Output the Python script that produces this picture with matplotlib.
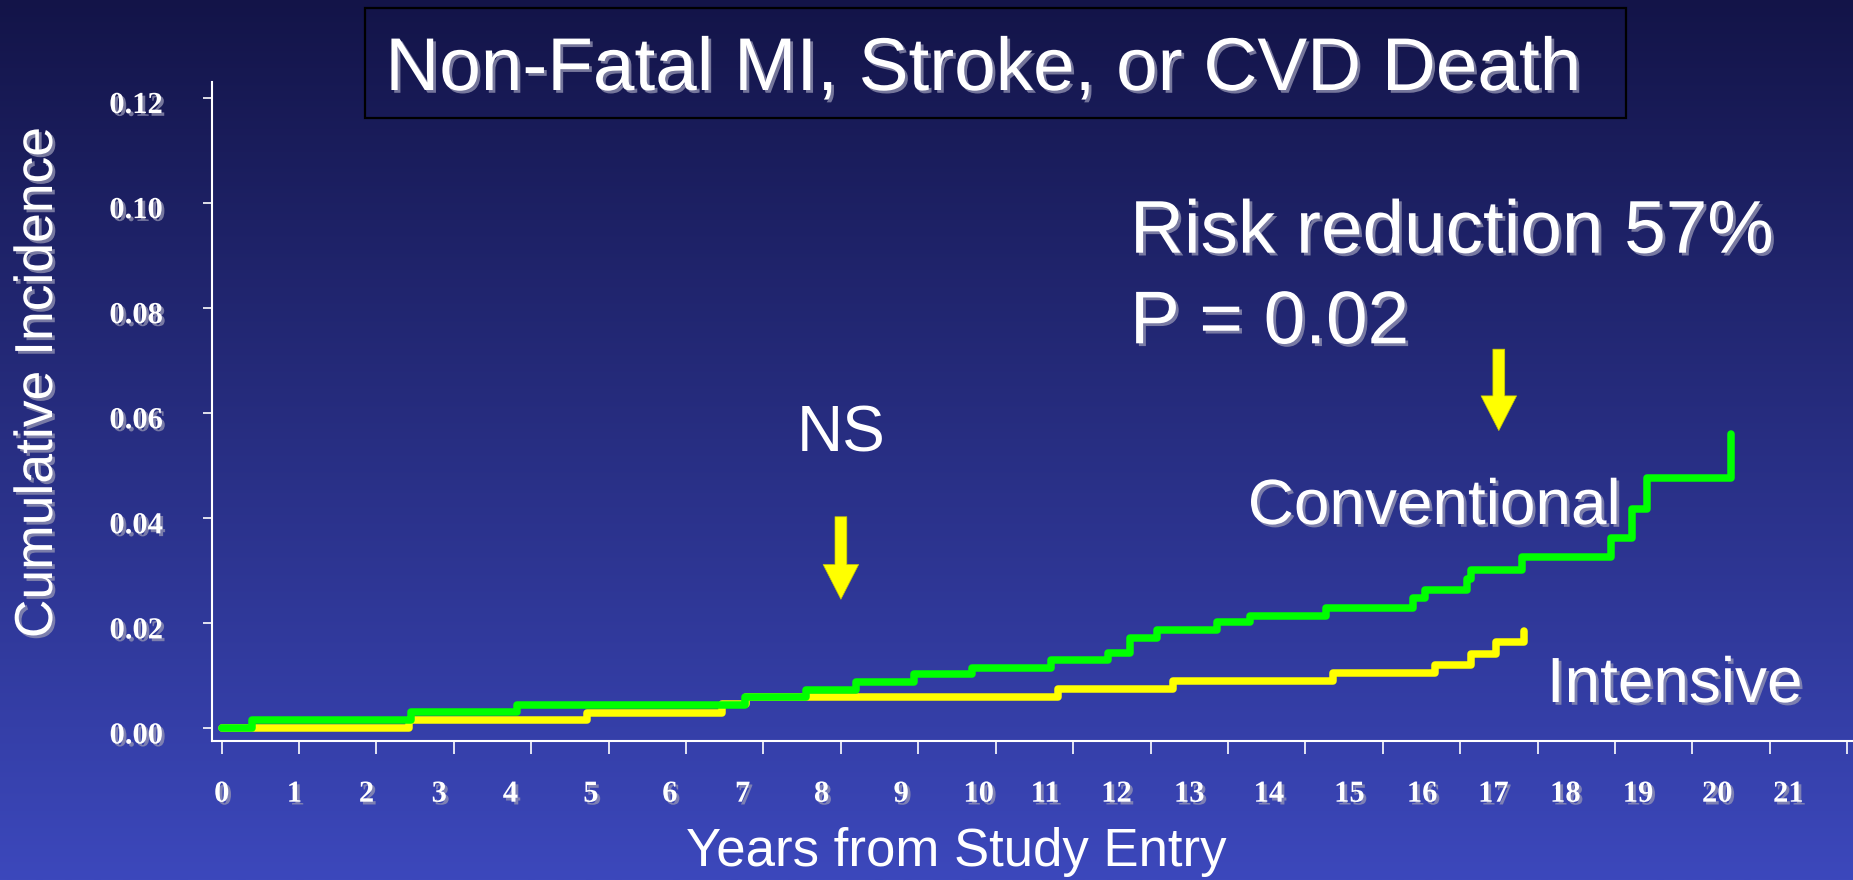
import numpy as np
import matplotlib.pyplot as plt
import matplotlib.patheffects as pe
from matplotlib.patches import Rectangle, FancyArrowPatch, ArrowStyle
from matplotlib.transforms import ScaledTranslation

# Kaplan-Meier style step curves: (years from entry, cumulative incidence)
conv_years = [0.0, 0.39, 2.45, 3.81, 6.76, 7.55, 8.20, 8.95, 9.69, 10.71, 11.45,
              11.74, 12.09, 12.86, 13.29, 14.27, 15.39, 15.55, 16.09, 16.14,
              16.80, 17.95, 18.22, 18.42, 19.50]
conv_inc = [0.0, 0.0016, 0.0031, 0.0045, 0.0060, 0.0073, 0.0088, 0.0103, 0.0116,
            0.0130, 0.0144, 0.0173, 0.0187, 0.0202, 0.0215, 0.0230, 0.0249,
            0.0263, 0.0285, 0.0302, 0.0326, 0.0362, 0.0417, 0.0476, 0.0560]

int_years = [0.0, 2.42, 4.72, 6.46, 6.78, 10.81, 12.29, 14.36, 15.67, 16.14,
             16.46, 16.83]
int_inc = [0.0, 0.0016, 0.0030, 0.0046, 0.0059, 0.0075, 0.0090, 0.0105, 0.0120,
           0.0142, 0.0164, 0.0185]

year_ticks = list(range(22))
year_labels = [str(y) for y in year_ticks]
# the year numbers are laid out on their own and drift away from the tick marks
year_label_pos = [0.0, 0.94, 1.87, 2.81, 3.73, 4.77, 5.79, 6.73, 7.75, 8.78, 9.78,
                  10.64, 11.56, 12.50, 13.53, 14.57, 15.51, 16.43, 17.36, 18.30,
                  19.32, 20.24]

inc_ticks = [0.00, 0.02, 0.04, 0.06, 0.08, 0.10, 0.12]
inc_labels = ['0.00', '0.02', '0.04', '0.06', '0.08', '0.10', '0.12']

# arrows marking the comparison points (year, top, tip)
arrows = [(8.0, 0.0403, 0.0246), (16.5, 0.0722, 0.0567)]

W, H = 1853, 880
fig = plt.figure(figsize=(W / 100, H / 100), dpi=100)

# slide background: vertical navy-to-blue gradient
bg = fig.add_axes([0, 0, 1, 1], zorder=0)
top = np.array([19, 20, 72]) / 255
bottom = np.array([60, 72, 188]) / 255
t = np.linspace(0, 1, 400)[:, None]
grad = (top[None, :] * (1 - t) + bottom[None, :] * t)[:, None, :]
bg.imshow(grad, aspect='auto', extent=[0, 1, 0, 1], interpolation='bilinear')
bg.set_axis_off()

shadow = [pe.withSimplePatchShadow(offset=(2, -2), shadow_rgbFace='#9696b4', alpha=0.75)]
sans = 'Liberation Sans'
serif = 'Liberation Serif'

left_px, right_px, top_px, axis_px = 211.7, 1853, 82, 741
ax = fig.add_axes([left_px / W, 1 - axis_px / H, (right_px - left_px) / W,
                   (axis_px - top_px) / H], zorder=1)
ax.patch.set_alpha(0)

ax.step(int_years, int_inc, where='post', color='#ffff00', lw=5.4,
        solid_joinstyle='round', solid_capstyle='round', zorder=3, clip_on=False)
ax.step(conv_years, conv_inc, where='post', color='#00ff00', lw=5.4,
        solid_joinstyle='round', solid_capstyle='round', zorder=4, clip_on=False)

ax.set_xlim(-0.129, 21.076)
ax.set_ylim(-0.00238, 0.12305)

for side in ['top', 'right']:
    ax.spines[side].set_visible(False)
for side in ['left', 'bottom']:
    ax.spines[side].set_color('white')
    ax.spines[side].set_linewidth(1.5)

ax.set_xticks(year_ticks)
ax.set_xticklabels([])
ax.tick_params(axis='x', direction='out', length=9, width=1.2, color='white')

ax.set_yticks(inc_ticks)
ax.set_yticklabels(inc_labels, fontfamily=serif, fontweight='bold', fontsize=22,
                   color='white')
ax.tick_params(axis='y', direction='out', length=6.3, width=1.2, color='white', pad=29)
for lab in ax.get_yticklabels():
    lab.set_path_effects(shadow)
    lab.set_transform(lab.get_transform() + ScaledTranslation(0, -0.04, fig.dpi_scale_trans))

for pos, lab in zip(year_label_pos, year_labels):
    ax.text(pos, (axis_px - 801.7) / (axis_px - top_px), lab, transform=ax.get_xaxis_transform(),
            ha='center', va='baseline', fontfamily=serif, fontweight='bold', fontsize=22,
            color='white', path_effects=shadow, clip_on=False)

for x, y0, y1 in arrows:
    ax.add_patch(FancyArrowPatch((x, y0), (x, y1),
                                 arrowstyle=ArrowStyle.Simple(head_length=25, head_width=25.6,
                                                              tail_width=8.5),
                                 mutation_scale=1, shrinkA=0, shrinkB=0, fc='#ffff00',
                                 ec='#c8c800', lw=0.5, zorder=5, clip_on=False))

# axis titles
fig.text(38 / W, 1 - 382 / H, 'Cumulative Incidence', rotation=90, ha='center', va='center',
         fontfamily=sans, fontsize=38.5, color='white', path_effects=shadow)
fig.text(956 / W, 1 - 866 / H, 'Years from Study Entry', ha='center', va='baseline',
         fontfamily=sans, fontsize=38, color='white')

# title in an outlined box
fig.patches.append(Rectangle((365 / W, 1 - 118.3 / H), (1626 - 365) / W, 110 / H,
                             transform=fig.transFigure, fill=False, ec='black', lw=1.6,
                             zorder=2))
fig.text(983 / W, 1 - 90 / H, 'Non-Fatal MI, Stroke, or CVD Death', ha='center',
         va='baseline', fontfamily=sans, fontsize=53.8, color='white', path_effects=shadow,
         zorder=3)

# annotations
fig.text(1130 / W, 1 - 252.7 / H, 'Risk reduction 57%', ha='left', va='baseline',
         fontfamily=sans, fontsize=53.8, color='white', path_effects=shadow, zorder=3)
fig.text(1130 / W, 1 - 343.3 / H, 'P = 0.02', ha='left', va='baseline',
         fontfamily=sans, fontsize=53.8, color='white', path_effects=shadow, zorder=3)
fig.text(841 / W, 1 - 451.7 / H, 'NS', ha='center', va='baseline',
         fontfamily=sans, fontsize=46, color='white', zorder=3)
fig.text(1434 / W, 1 - 524 / H, 'Conventional', ha='center', va='baseline',
         fontfamily=sans, fontsize=46, color='white', path_effects=shadow, zorder=3)
fig.text(1674.5 / W, 1 - 702 / H, 'Intensive', ha='center', va='baseline',
         fontfamily=sans, fontsize=46, color='white', path_effects=shadow, zorder=3)

fig.savefig('out.png', dpi=100)
